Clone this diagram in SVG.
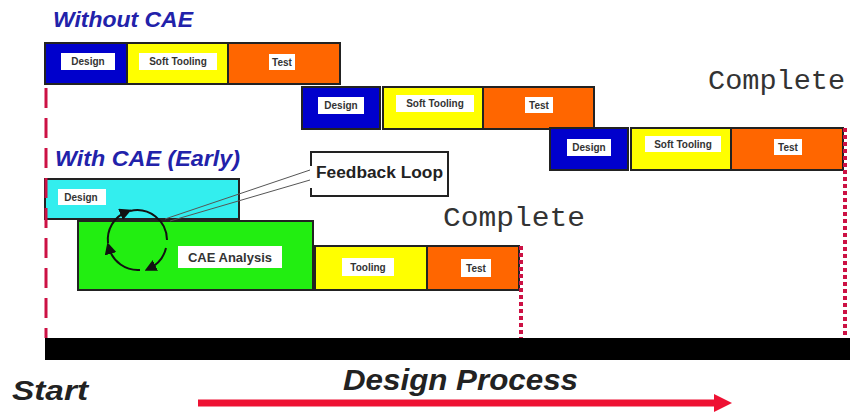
<svg xmlns="http://www.w3.org/2000/svg" width="857" height="412" viewBox="0 0 857 412">
<defs>
<style>
.bar{stroke:#222;stroke-width:2}
.blue{fill:#0000cc}
.yel{fill:#ffff00}
.org{fill:#ff6600}
.lbl{fill:#fff}
.t{font-family:"Liberation Sans",Arial,sans-serif;font-weight:bold;font-size:10px;fill:#333;text-anchor:middle}
.title{font-family:"Liberation Sans",Arial,sans-serif;font-weight:bold;font-style:italic;font-size:22px;fill:#2222aa}
.cmp{font-family:"Liberation Mono","Courier New",monospace;font-size:28px;fill:#333}
.big{font-family:"Liberation Sans",Arial,sans-serif;font-weight:bold;font-style:italic;fill:#222}
.red{stroke:#cc1144;fill:none}
</style>
<marker id="ah" markerWidth="6" markerHeight="6" refX="3" refY="3" orient="auto" markerUnits="strokeWidth"><path d="M0,0 L6,3 L0,6 z" fill="#111"/></marker>
</defs>
<rect width="857" height="412" fill="#fff"/>
<text class="title" x="53" y="27" textLength="140" lengthAdjust="spacingAndGlyphs">Without CAE</text>
<g id="r1">
<rect class="bar blue" x="45" y="43" width="82" height="41"/>
<rect class="bar yel" x="127" y="43" width="101" height="41"/>
<rect class="bar org" x="228" y="43" width="112" height="41"/>
<rect class="lbl" x="61" y="53" width="54" height="17"/><text class="t" x="88" y="65">Design</text>
<rect class="lbl" x="139" y="53" width="78" height="17"/><text class="t" x="178" y="65">Soft Tooling</text>
<rect class="lbl" x="269" y="54" width="26" height="16"/><text class="t" x="282" y="66">Test</text>
</g>
<g id="r2">
<rect class="bar blue" x="302" y="87" width="78" height="42"/>
<rect class="bar yel" x="383" y="87" width="100" height="42"/>
<rect class="bar org" x="483" y="87" width="111" height="42"/>
<rect class="lbl" x="318" y="97" width="46" height="17"/><text class="t" x="341" y="109">Design</text>
<rect class="lbl" x="396" y="95" width="78" height="17"/><text class="t" x="435" y="107">Soft Tooling</text>
<rect class="lbl" x="525" y="97" width="28" height="16"/><text class="t" x="539" y="109">Test</text>
</g>
<g id="r3">
<rect class="bar blue" x="550" y="128" width="78" height="42"/>
<rect class="bar yel" x="631" y="128" width="100" height="42"/>
<rect class="bar org" x="731" y="128" width="112" height="42"/>
<rect class="lbl" x="567" y="139" width="44" height="17"/><text class="t" x="589" y="151">Design</text>
<rect class="lbl" x="645" y="136" width="76" height="16"/><text class="t" x="683" y="148">Soft Tooling</text>
<rect class="lbl" x="774" y="139" width="28" height="16"/><text class="t" x="788" y="151">Test</text>
</g>
<text class="cmp" x="708" y="89" textLength="137" lengthAdjust="spacingAndGlyphs">Complete</text>
<text class="title" x="55" y="166" textLength="185" lengthAdjust="spacingAndGlyphs">With CAE (Early)</text>
<g id="design2">
<rect class="bar" x="45" y="179" width="194" height="40" fill="#33eeee"/>
<rect class="lbl" x="58" y="189" width="48" height="16"/><text class="t" x="81" y="201">Design</text>
</g>
<g id="cae">
<rect class="bar" x="78" y="221" width="235" height="69" fill="#22ee11"/>
<rect class="lbl" x="178" y="246" width="104" height="22"/><text class="t" x="230" y="262" style="font-size:13px">CAE Analysis</text>
</g>
<g id="r4">
<rect class="bar yel" x="315" y="246" width="112" height="44"/>
<rect class="bar org" x="427" y="246" width="92" height="44"/>
<rect class="lbl" x="342" y="258" width="52" height="18"/><text class="t" x="368" y="271">Tooling</text>
<rect class="lbl" x="461" y="259" width="30" height="18"/><text class="t" x="476" y="272">Test</text>
</g>
<g id="feedback">
<rect x="311" y="152" width="137" height="44" fill="#fff"/>
<path d="M311,166 V152 H448 V196 H311 V188" fill="none" stroke="#222" stroke-width="2"/>
<text x="316" y="178" textLength="127" lengthAdjust="spacingAndGlyphs" style="font-family:'Liberation Sans',Arial,sans-serif;font-weight:bold;font-size:16px;fill:#222">Feedback Loop</text>
</g>
<text class="cmp" x="443" y="226" textLength="142" lengthAdjust="spacingAndGlyphs">Complete</text>
<g id="connectors">
<line x1="310" y1="170" x2="165" y2="219" stroke="#555" stroke-width="1"/>
<line x1="310" y1="180" x2="170" y2="221" stroke="#555" stroke-width="1"/>
<path d="M108,243 A30,30 0 0,1 126,212" fill="none" stroke="#111" stroke-width="2" marker-end="url(#ah)"/>
<path d="M130,211 A30,30 0 0,1 167,240" fill="none" stroke="#111" stroke-width="2"/>
<path d="M166,248 A30,30 0 0,1 150,268" fill="none" stroke="#111" stroke-width="2" marker-end="url(#ah)"/>
<path d="M140,270 A30,30 0 0,1 109,248" fill="none" stroke="#111" stroke-width="2" marker-end="url(#ah)"/>
<line class="red" x1="46" y1="88" x2="46" y2="338" stroke-width="3" stroke-dasharray="20,10"/>
<line class="red" x1="521" y1="246" x2="521" y2="338" stroke-width="4" stroke-dasharray="4,3"/>
<line class="red" x1="845" y1="128" x2="845" y2="338" stroke-width="4" stroke-dasharray="4,3"/>
<path d="M198,403 H716" stroke="#ee1133" stroke-width="7" fill="none"/>
<path d="M714,394 L732,403 L714,412 z" fill="#ee1133"/>
</g>
<rect x="45" y="338" width="805" height="22" fill="#000"/>
<text class="big" x="12" y="400" textLength="76" lengthAdjust="spacingAndGlyphs" style="font-size:28px">Start</text>
<text class="big" x="343" y="390" textLength="235" lengthAdjust="spacingAndGlyphs" style="font-size:30px">Design Process</text>
</svg>
